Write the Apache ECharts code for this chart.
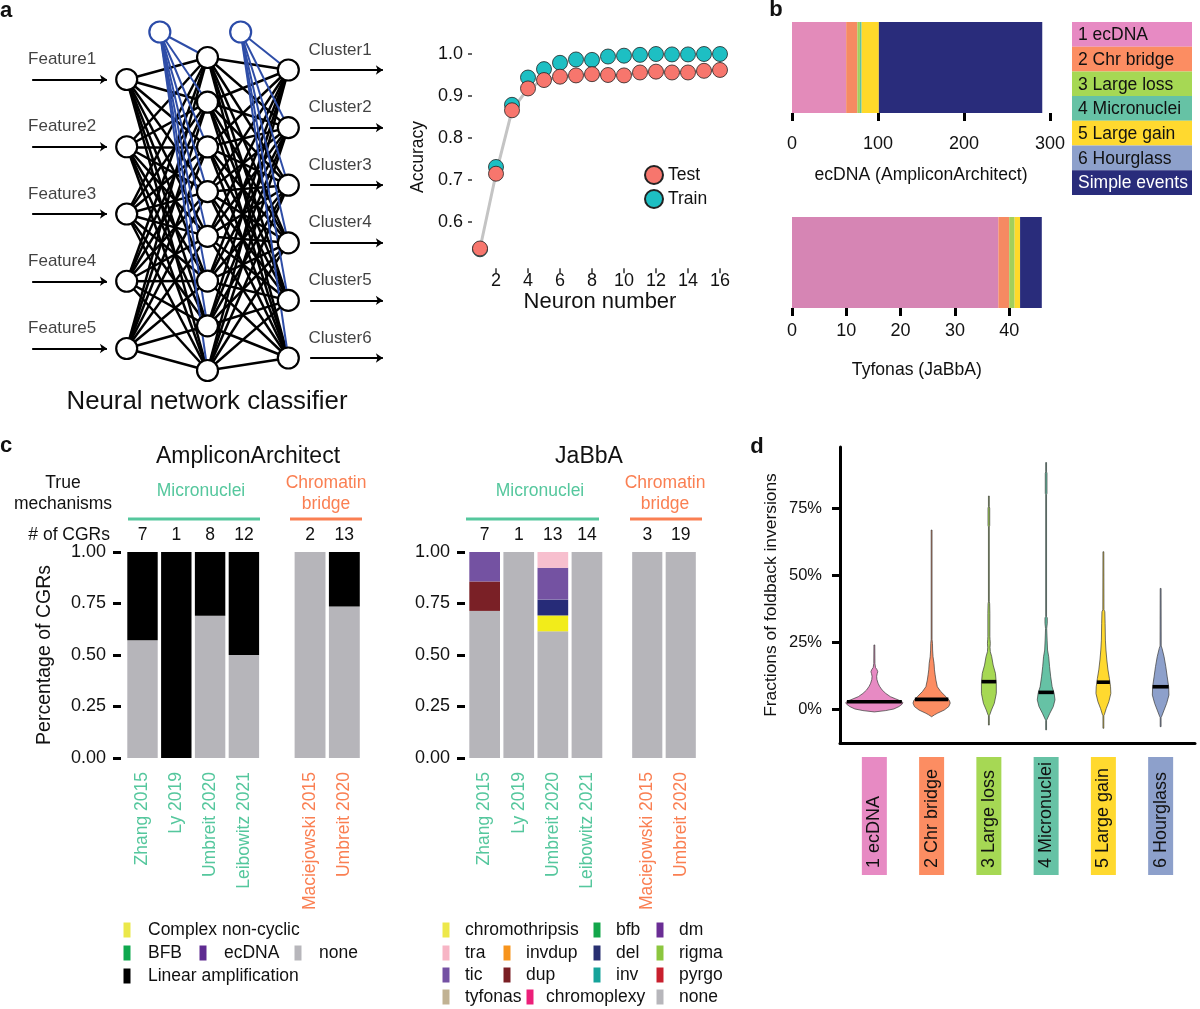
<!DOCTYPE html>
<html><head><meta charset="utf-8">
<script src="https://cdn.jsdelivr.net/npm/echarts@6/dist/echarts.min.js"></script>
<style>html,body{margin:0;padding:0;background:#fff}#c{width:1200px;height:1009px}</style>
</head><body><div id="c"></div>
<script>
// ================= DATA =================
// a: network structure
const nnLayerSizes = [5, 8, 6];
const nnInputs = ['Feature1', 'Feature2', 'Feature3', 'Feature4', 'Feature5'];
const nnOutputs = ['Cluster1', 'Cluster2', 'Cluster3', 'Cluster4', 'Cluster5', 'Cluster6'];
const nnTitle = 'Neural network classifier';
// a: accuracy
const neuronNumber = [1, 2, 3, 4, 5, 6, 7, 8, 9, 10, 11, 12, 13, 14, 15, 16];
const accTest = [0.537, 0.715, 0.866, 0.918, 0.938, 0.946, 0.949, 0.952, 0.950, 0.949, 0.956, 0.958, 0.956, 0.956, 0.960, 0.962];
const accTrain = [0.535, 0.731, 0.879, 0.944, 0.964, 0.979, 0.987, 0.986, 0.994, 0.996, 0.998, 1.000, 0.999, 0.999, 1.000, 1.000];
const accXTicks = [2, 4, 6, 8, 10, 12, 14, 16];
const accYTicks = [0.6, 0.7, 0.8, 0.9, 1.0];
// b
const bCategories = ['1 ecDNA', '2 Chr bridge', '3 Large loss', '4 Micronuclei', '5 Large gain', '6 Hourglass', 'Simple events'];
const bAmpliconArchitect = [63, 13, 3, 2, 20, 0, 190];
const bJaBbA = [38, 2, 1, 0, 1, 0, 4];
const bTopTicks = [0, 100, 200, 300];
const bBottomTicks = [0, 10, 20, 30, 40];
// c
const cStudies = ['Zhang 2015', 'Ly 2019', 'Umbreit 2020', 'Leibowitz 2021', 'Maciejowski 2015', 'Umbreit 2020'];
const cMechanism = ['Micronuclei', 'Micronuclei', 'Micronuclei', 'Micronuclei', 'Chromatin bridge', 'Chromatin bridge'];
const cAACounts = [7, 1, 8, 12, 2, 13];
const cJaCounts = [7, 1, 13, 14, 3, 19];
const cAANone = [0.571, 0, 0.69, 0.5, 1, 0.735];
const cAALinear = [0.429, 1, 0.31, 0.5, 0, 0.265];
const cJaNone = [0.714, 1, 0.615, 1, 1, 1];
const cJaChromothripsis = [0, 0, 0.077, 0, 0, 0];
const cJaDel = [0, 0, 0.077, 0, 0, 0];
const cJaDup = [0.143, 0, 0, 0, 0, 0];
const cJaTic = [0.143, 0, 0.154, 0, 0, 0];
const cJaTra = [0, 0, 0.077, 0, 0, 0];
const cAALegend = ['Complex non-cyclic', 'BFB', 'ecDNA', 'none', 'Linear amplification'];
const cJaLegend = ['chromothripsis', 'bfb', 'dm', 'tra', 'invdup', 'del', 'rigma', 'tic', 'dup', 'inv', 'pyrgo', 'tyfonas', 'chromoplexy', 'none'];
// d: violins, [value, relative density]
const dCategories = ['1 ecDNA', '2 Chr bridge', '3 Large loss', '4 Micronuclei', '5 Large gain', '6 Hourglass'];
const dMedians = [0.027, 0.036, 0.102, 0.062, 0.100, 0.083];
const dYTicks = [0, 0.25, 0.5, 0.75];
const dEcDNA = [[-0.011,0],[-0.006,0.4],[0,0.68],[0.009,0.86],[0.018,0.97],[0.024,1.0],[0.03,0.92],[0.038,0.74],[0.046,0.56],[0.058,0.4],[0.071,0.27],[0.085,0.18],[0.096,0.13],[0.11,0.09],[0.122,0.08],[0.132,0.1],[0.139,0.12],[0.147,0.09],[0.155,0.04],[0.17,0.02],[0.239,0.015]];
const dChrBridge = [[-0.029,0],[-0.022,0.1],[-0.016,0.2],[-0.004,0.44],[0.009,0.6],[0.022,0.65],[0.032,0.62],[0.046,0.5],[0.065,0.32],[0.083,0.2],[0.108,0.15],[0.13,0.12],[0.146,0.1],[0.17,0.085],[0.195,0.05],[0.22,0.035],[0.245,0.03],[0.26,0.015],[0.668,0.015]];
const dLargeLoss = [[-0.06,0.015],[-0.025,0.015],[-0.022,0.03],[-0.004,0.09],[0.021,0.19],[0.058,0.26],[0.096,0.26],[0.133,0.23],[0.164,0.15],[0.195,0.1],[0.214,0.05],[0.23,0.04],[0.245,0.05],[0.26,0.04],[0.27,0.035],[0.357,0.035],[0.393,0.028],[0.4,0.015],[0.68,0.015],[0.685,0.03],[0.75,0.03],[0.755,0.015],[0.795,0.015]];
const dMicronuclei = [[-0.078,0.015],[-0.042,0.015],[-0.039,0.03],[-0.016,0.13],[0.009,0.25],[0.034,0.31],[0.058,0.28],[0.083,0.21],[0.12,0.16],[0.158,0.12],[0.195,0.09],[0.22,0.05],[0.257,0.035],[0.3,0.02],[0.32,0.04],[0.34,0.04],[0.345,0.015],[0.8,0.015],[0.805,0.03],[0.88,0.03],[0.885,0.015],[0.92,0.015]];
const dLargeGain = [[-0.072,0.015],[-0.025,0.015],[-0.022,0.03],[0.002,0.1],[0.027,0.19],[0.058,0.26],[0.083,0.25],[0.114,0.21],[0.146,0.16],[0.183,0.12],[0.22,0.09],[0.257,0.07],[0.32,0.06],[0.363,0.05],[0.37,0.02],[0.587,0.015]];
const dHourglass = [[-0.066,0.015],[-0.032,0.015],[-0.029,0.03],[-0.004,0.12],[0.021,0.21],[0.052,0.29],[0.083,0.28],[0.12,0.23],[0.158,0.18],[0.195,0.12],[0.226,0.05],[0.235,0.02],[0.45,0.015]];
const dProfiles = [dEcDNA, dChrBridge, dLargeLoss, dMicronuclei, dLargeGain, dHourglass];

// ================= STYLES / LAYOUT =================
const FONT = '"Liberation Sans", Arial, Helvetica, sans-serif';
const set2 = ['#E78AC3', '#FC8D62', '#A6D854', '#66C2A5', '#FFD92F', '#8DA0CB', '#292C7B'];
const bTopColors = ['#E38BBA', '#F68A62', '#A3CF5B', '#63C2A2', '#FFD92A', '#8DA0CB', '#292C7B'];
const bBotColors = ['#D685B4', '#F68A62', '#A3CF5B', '#63C2A2', '#FFD92A', '#8DA0CB', '#292C7B'];
const teal = '#55C79D', orange = '#FA7F52';
const mechColor = m => m === 'Micronuclei' ? teal : orange;
const aaLegendColors = ['#EBE84A', '#0FA84E', '#5E2B91', '#B7B6BB', '#000000'];
const jaLegendColors = ['#EDE84A', '#13A64B', '#6A2D95', '#F7B5C5', '#F7941D', '#283071', '#8CC63F', '#7451A3', '#7A1F24', '#16A39A', '#C8202E', '#C1B293', '#EC1F79', '#B7B6BB'];
const noneGray = '#B6B5BA';
const INK = '#111';

// network layout
const nnSpan = [269, 313, 288], nnCenterY = 214;
const nodes = [], links = [], layerStart = [];
nnLayerSizes.forEach((n, L) => {
  layerStart.push(nodes.length);
  for (let i = 0; i < n; i++) {
    nodes.push({ value: [L, nnCenterY + (i - (n - 1) / 2) * nnSpan[L] / (n - 1)] });
  }
});
const biasIdx = [nodes.length, nodes.length + 1];
[0, 1].forEach(L => nodes.push({ value: [L + 0.41, 32], itemStyle: { borderColor: '#2B4BA8' } }));
for (let L = 0; L < 2; L++) {
  for (let i = 0; i < nnLayerSizes[L]; i++)
    for (let j = 0; j < nnLayerSizes[L + 1]; j++)
      links.push({ source: layerStart[L] + i, target: layerStart[L + 1] + j });
}
for (let L = 0; L < 2; L++) {
  for (let j = 0; j < nnLayerSizes[L + 1]; j++)
    links.push({ source: biasIdx[L], target: layerStart[L + 1] + j, lineStyle: { color: '#2E4DA7', width: 2 } });
}
const inY = nodes.slice(layerStart[0], layerStart[0] + 5).map(n => n.value[1]);
const outY = nodes.slice(layerStart[2], layerStart[2] + 6).map(n => n.value[1]);

// ================= OPTION =================
const hidden = (gi, extra) => Object.assign({ gridIndex: gi, show: false }, extra || {});
const noSplit = { show: false };

const xAxis = [
  hidden(0, { type: 'value', min: -1.568, max: 3.382 }),
  { type: 'value', gridIndex: 1, min: 0.5, max: 16.5, splitLine: noSplit, axisLine: { show: false },
    axisTick: { show: true, customValues: accXTicks, length: 5, lineStyle: { color: '#333', width: 1.5 } },
    axisLabel: { customValues: accXTicks, fontSize: 18, color: INK, margin: 4 },
    name: 'Neuron number', nameLocation: 'middle', nameGap: 21, nameTextStyle: { fontSize: 22, color: INK } },
  { type: 'value', gridIndex: 2, min: 0, max: 300, splitLine: noSplit, axisLine: { show: false },
    axisTick: { show: true, customValues: bTopTicks, length: 8, lineStyle: { color: '#000', width: 3 } },
    axisLabel: { customValues: bTopTicks, fontSize: 18, color: INK, margin: 22 },
    name: 'ecDNA (AmpliconArchitect)', nameLocation: 'middle', nameGap: 53, nameTextStyle: { fontSize: 17.6, color: INK } },
  { type: 'value', gridIndex: 3, min: 0, max: 46, splitLine: noSplit, axisLine: { show: false },
    axisTick: { show: true, customValues: bBottomTicks, length: 8, lineStyle: { color: '#000', width: 3 } },
    axisLabel: { customValues: bBottomTicks, fontSize: 18, color: INK, margin: 14 },
    name: 'Tyfonas (JaBbA)', nameLocation: 'middle', nameGap: 53, nameTextStyle: { fontSize: 17.6, color: INK } }
];
const yAxis = [
  hidden(0, { type: 'value', min: 0, max: 420, inverse: true }),
  { type: 'value', gridIndex: 1, min: 0.49, max: 1.02, splitLine: noSplit, axisLine: { show: false },
    axisTick: { show: true, customValues: accYTicks, length: 4, lineStyle: { color: '#333', width: 1.5 } },
    axisLabel: { customValues: accYTicks, formatter: v => v.toFixed(1), fontSize: 18, color: INK, margin: 9 },
    name: 'Accuracy', nameLocation: 'middle', nameGap: 45, nameRotate: 90, nameTextStyle: { fontSize: 17.5, color: INK } },
  hidden(2, { type: 'category', data: ['AA'] }),
  hidden(3, { type: 'category', data: ['JaBbA'] })
];

// c panel grids: [gridIndex, first study, count]
const cGridDefs = [[4, 0, 4], [5, 4, 2], [6, 0, 4], [7, 4, 2]];
cGridDefs.forEach(([gi, s, n], k) => {
  const counts = k < 2 ? cAACounts : cJaCounts;
  xAxis.push({ type: 'category', gridIndex: gi, position: 'bottom', data: cStudies.slice(s, s + n),
    axisLine: { show: false }, axisTick: { show: false },
    axisLabel: { interval: 0, rotate: 90, fontSize: 17.5, margin: 14, color: (v, i) => mechColor(cMechanism[s + i]) } });
  xAxis.push({ type: 'category', gridIndex: gi, position: 'top', data: counts.slice(s, s + n).map(String),
    axisLine: { show: false }, axisTick: { show: false },
    axisLabel: { interval: 0, fontSize: 17.5, color: INK, margin: 8 } });
  if (s === 0) {
    yAxis.push({ type: 'value', gridIndex: gi, min: 0, max: 1, interval: 0.25, offset: k < 2 ? 4.6 : 2.6, splitLine: noSplit,
      axisLine: { show: false }, axisTick: { show: true, length: 8, lineStyle: { color: '#000', width: 3 } },
      axisLabel: { formatter: v => v.toFixed(2), fontSize: 18, color: INK, margin: 15 },
      name: k === 0 ? 'Percentage of CGRs' : '', nameLocation: 'middle', nameGap: 66, nameRotate: 90,
      nameTextStyle: { fontSize: 19.5, color: INK } });
  } else {
    yAxis.push(hidden(gi, { type: 'value', min: 0, max: 1 }));
  }
});
// d axes
const dRich = {};
dCategories.forEach((c, i) => { dRich['c' + (i + 1)] = { backgroundColor: set2[i], width: 111, height: 25, lineHeight: 25, padding: [0, 0, 0, 7], fontSize: 18, color: INK, align: 'left' }; });
xAxis.push({ type: 'value', gridIndex: 8, min: 0.4, max: 6.6, splitLine: noSplit,
  axisLine: { show: true, onZero: false, lineStyle: { color: '#000', width: 3 } }, axisTick: { show: false },
  axisLabel: { customValues: [1, 2, 3, 4, 5, 6], rotate: 90, margin: 14, formatter: v => '{c' + v + '|' + dCategories[v - 1] + '}', rich: dRich } });
yAxis.push({ type: 'value', gridIndex: 8, min: -0.127, max: 0.978, splitLine: noSplit,
  axisLine: { show: true, onZero: false, lineStyle: { color: '#000', width: 3 } },
  axisTick: { show: true, customValues: dYTicks, length: 8, lineStyle: { color: '#000', width: 3 } },
  axisLabel: { customValues: dYTicks, formatter: v => Math.round(v * 100) + '%', fontSize: 16.5, color: INK, margin: 18 },
  name: 'Fractions of foldback inversions', nameLocation: 'middle', nameGap: 60, nameRotate: 90, nameTextStyle: { fontSize: 17.4, color: INK } });

const series = [];
// a network
series.push({ type: 'graph', layout: 'none', coordinateSystem: 'cartesian2d', xAxisIndex: 0, yAxisIndex: 0,
  symbol: 'circle', symbolSize: 21, data: nodes, links: links, silent: true,
  itemStyle: { color: '#fff', borderColor: '#000', borderWidth: 2.2 },
  lineStyle: { color: '#000', width: 2.5, opacity: 1, curveness: 0 }, label: { show: false }, z: 2 });
series.push({ type: 'lines', coordinateSystem: 'cartesian2d', xAxisIndex: 0, yAxisIndex: 0, silent: true,
  symbol: ['none', 'arrow'], symbolSize: 7, lineStyle: { color: '#000', width: 2, opacity: 1 },
  data: inY.map(y => ({ coords: [[-1.17, y], [-0.245, y]] })).concat(outY.map(y => ({ coords: [[2.27, y], [3.17, y]] }))) });
series.push({ type: 'scatter', xAxisIndex: 0, yAxisIndex: 0, symbolSize: 1, silent: true, itemStyle: { color: 'rgba(0,0,0,0)' },
  label: { show: true, position: 'inside', formatter: '{b}', fontSize: 17, color: INK },
  data: nnInputs.map((t, i) => ({ name: t, value: [-0.80, inY[i] - 20] })).concat(nnOutputs.map((t, i) => ({ name: t, value: [2.64, outY[i] - 20] }))) });
// a accuracy
series.push({ type: 'line', xAxisIndex: 1, yAxisIndex: 1, data: neuronNumber.map((x, i) => [x, accTest[i]]), symbol: 'none', silent: true,
  lineStyle: { color: '#C4C4C4', width: 3 }, z: 1 });
series.push({ name: 'Train', type: 'scatter', xAxisIndex: 1, yAxisIndex: 1, data: neuronNumber.map((x, i) => [x, accTrain[i]]), symbolSize: 15,
  itemStyle: { color: '#1DBFC3', borderColor: '#222', borderWidth: 0.8, opacity: 1 }, z: 3 });
series.push({ name: 'Test', type: 'scatter', xAxisIndex: 1, yAxisIndex: 1, data: neuronNumber.map((x, i) => [x, accTest[i]]), symbolSize: 15,
  itemStyle: { color: '#F7766D', borderColor: '#222', borderWidth: 0.8, opacity: 1 }, z: 4 });
// b
bCategories.forEach((c, i) => {
  series.push({ name: c, type: 'bar', stack: 'bTop', xAxisIndex: 2, yAxisIndex: 2, barWidth: '100%', data: [bAmpliconArchitect[i]], itemStyle: { color: bTopColors[i] }, silent: true });
  series.push({ name: c, type: 'bar', stack: 'bBot', xAxisIndex: 3, yAxisIndex: 3, barWidth: '100%', data: [bJaBbA[i]], itemStyle: { color: bBotColors[i] }, silent: true });
});
// c
cGridDefs.forEach(([gi, s, n], k) => {
  const xi = 4 + k * 2, yi = 4 + k;
  const stacks = k < 2
    ? [['none', cAANone, noneGray], ['Linear amplification', cAALinear, '#000000']]
    : [['none', cJaNone, noneGray], ['chromothripsis', cJaChromothripsis, '#F2EC1A'], ['del', cJaDel, '#262B78'], ['dup', cJaDup, '#7A2026'], ['tic', cJaTic, '#7452A2'], ['tra', cJaTra, '#F7BFCE']];
  stacks.forEach(([nm, arr, col]) => series.push({ name: nm, type: 'bar', stack: 'c' + k, xAxisIndex: xi, yAxisIndex: yi, barCategoryGap: '10%',
    data: arr.slice(s, s + n), itemStyle: { color: col }, silent: true }));
});
// d violins
series.push({ type: 'custom', xAxisIndex: 12, yAxisIndex: 8, silent: true, encode: { x: 0, y: 1 },
  data: dMedians.map((m, i) => [i + 1, m]),
  renderItem: (params, api) => {
    const idx = api.value(0), med = api.value(1);
    const prof = dProfiles[params.dataIndex];
    const cx = api.coord([idx, 0])[0];
    const half = api.size([1, 0])[0] * 0.5;
    const right = prof.map(([v, d]) => [cx + d * half, api.coord([idx, v])[1]]);
    const left = prof.slice().reverse().map(([v, d]) => [cx - d * half, api.coord([idx, v])[1]]);
    let dm = 0;
    for (let k = 0; k < prof.length - 1; k++) {
      const [v0, d0] = prof[k], [v1, d1] = prof[k + 1];
      if (med >= v0 && med <= v1) { dm = d0 + (d1 - d0) * (med - v0) / (v1 - v0); break; }
    }
    const my = api.coord([idx, med])[1];
    return { type: 'group', children: [
      { type: 'polygon', shape: { points: right.concat(left) }, style: { fill: set2[params.dataIndex], stroke: '#3a3a3a', lineWidth: 0.7 } },
      { type: 'rect', shape: { x: cx - dm * half, y: my - 1.8, width: 2 * dm * half, height: 3.6 }, style: { fill: '#000' } }
    ] };
  } });

// ================= GRAPHIC (titles, legends) =================
const T = (text, x, y, size, opts) => Object.assign({ type: 'text', x: x, y: y, silent: true,
  style: Object.assign({ text: text, fontSize: size, fontFamily: FONT, fill: INK, align: 'center', verticalAlign: 'middle', textAlign: 'center', textVerticalAlign: 'middle' }, (opts || {})) });
const L = (x1, x2, y, color) => ({ type: 'line', silent: true, shape: { x1: x1, y1: y, x2: x2, y2: y }, style: { stroke: color, lineWidth: 3 } });
const graphic = [
  T('a', 6, 11, 22, { fontWeight: 'bold' }), T('b', 776, 10, 22, { fontWeight: 'bold' }),
  T('c', 6, 446, 22, { fontWeight: 'bold' }), T('d', 757, 447, 22, { fontWeight: 'bold' }),
  T(nnTitle, 207, 402, 25.8),
  T('AmpliconArchitect', 248, 457, 23), T('JaBbA', 589, 457, 23),
  T('True\nmechanisms', 63, 494, 17.5, { lineHeight: 21 }),
  T('# of CGRs', 110, 535, 17.5, { align: 'right', textAlign: 'right' }),
  T('Micronuclei', 201, 491, 17.5, { fill: teal }), T('Micronuclei', 540, 491, 17.5, { fill: teal }),
  T('Chromatin\nbridge', 326, 494, 17.5, { fill: orange, lineHeight: 21 }), T('Chromatin\nbridge', 665, 494, 17.5, { fill: orange, lineHeight: 21 }),
  L(128, 260, 519, teal), L(290, 362, 519, orange), L(466, 599, 519, teal), L(630, 702, 519, orange)
];
// b legend box
const bRowH = 24.7;
bCategories.forEach((c, i) => {
  graphic.push({ type: 'rect', silent: true, shape: { x: 1072, y: 22 + i * bRowH, width: 120, height: bRowH }, style: { fill: set2[i] } });
  graphic.push(T(c, 1078, 22 + i * bRowH + bRowH / 2 + 1, 17.5, { align: 'left', textAlign: 'left', fill: i === 6 ? '#fff' : INK }));
});
// c legends
const aaPos = [[127, 930], [127, 953], [203, 953], [298, 953], [127, 976]];
cAALegend.forEach((nm, i) => {
  const [x, y] = aaPos[i];
  graphic.push({ type: 'rect', silent: true, shape: { x: x - 3.5, y: y - 7.5, width: 7, height: 15 }, style: { fill: aaLegendColors[i] } });
  graphic.push(T(nm, x + 21, y, 17.5, { align: 'left', textAlign: 'left' }));
});
const jaPos = [[446, 930], [597, 930], [660, 930], [446, 953], [507, 953], [597, 953], [660, 953], [446, 975], [507, 975], [597, 975], [660, 975], [446, 997], [530, 997], [660, 997]];
cJaLegend.forEach((nm, i) => {
  const [x, y] = jaPos[i];
  graphic.push({ type: 'rect', silent: true, shape: { x: x - 3.5, y: y - 7.5, width: 7, height: 15 }, style: { fill: jaLegendColors[i] } });
  graphic.push(T(nm, x + (nm === 'chromoplexy' ? 16 : 19), y, 17.5, { align: 'left', textAlign: 'left' }));
});

const option = {
  animation: false,
  textStyle: { fontFamily: FONT },
  grid: [
    { left: 0, top: 0, width: 400, height: 420 },
    { left: 472, top: 45.6, width: 256, height: 222.6 },
    { left: 792, top: 22, width: 258, height: 91 },
    { left: 792, top: 217, width: 249.8, height: 91 },
    { left: 125.6, top: 552, width: 135.2, height: 206 },
    { left: 292.9, top: 552, width: 68.6, height: 206 },
    { left: 467.6, top: 552, width: 136.4, height: 206 },
    { left: 630.5, top: 552, width: 67, height: 206 },
    { left: 840, top: 447, width: 355, height: 296 }
  ],
  legend: { data: ['Test', 'Train'], orient: 'vertical', left: 639, top: 160, itemWidth: 18, itemHeight: 18, itemGap: 4, icon: 'circle',
    textStyle: { fontSize: 17.5, color: INK }, selectedMode: false },
  xAxis: xAxis, yAxis: yAxis, series: series, graphic: graphic
};
const chart = echarts.init(document.getElementById('c'), null, { renderer: 'canvas' });
chart.setOption(option);
</script></body></html>
